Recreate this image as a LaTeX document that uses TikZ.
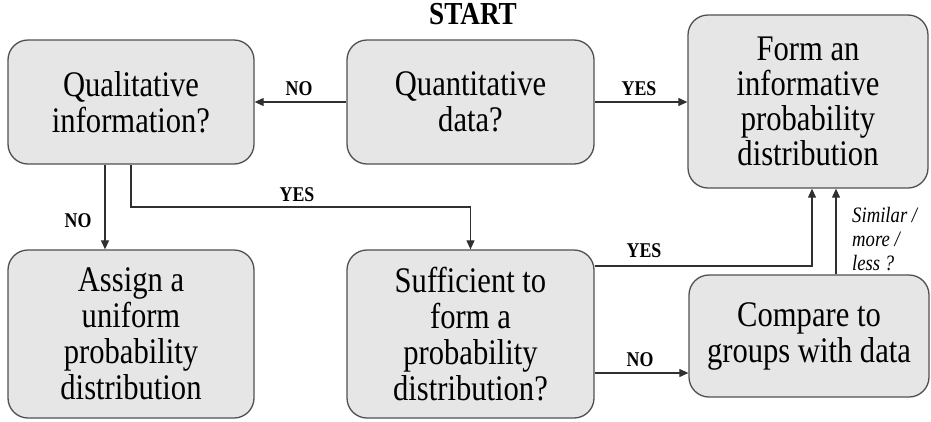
\documentclass[tikz,border=0pt]{standalone}
\usepackage{fontspec}
\setmainfont{Liberation Serif}[FakeStretch=0.85]
\usetikzlibrary{arrows.meta}
\definecolor{boxfill}{HTML}{E6E6E6}
\definecolor{boxline}{HTML}{505050}
\definecolor{conline}{HTML}{303030}
\tikzset{
  box/.style={draw=boxline, line width=1.3pt, fill=boxfill, rounded corners=20pt,
    align=center, inner sep=0pt, font=\fontsize{36}{36}\selectfont},
  con/.style={draw=conline, line width=1.1pt},
  arr/.style={con, -{Triangle[length=9pt,width=8pt]}},
  lab/.style={font=\fontsize{21}{23}\selectfont\bfseries, inner sep=0pt},
  ital/.style={font=\fontsize{22}{24}\selectfont\itshape, align=left, inner sep=0pt},
}
\begin{document}
\begin{tikzpicture}[x=1pt,y=-1pt]
\useasboundingbox (0,0) rectangle (931,421);
% boxes
\node[box, minimum width=246pt, minimum height=124pt] (qual) at (131,102) {Qualitative\\information?};
\node[box, minimum width=247pt, minimum height=124pt] (quant) at (470.5,102) {Quantitative\\data?};
\node[box, minimum width=240pt, minimum height=173pt, font=\fontsize{36}{35}\selectfont] (form) at (808,101.5) {Form an\\informative\\probability\\distribution};
\node[box, minimum width=246pt, minimum height=168pt] (assign) at (131,334) {Assign a\\uniform\\probability\\distribution};
\node[box, minimum width=247pt, minimum height=168pt] (suff) at (470.5,334) {Sufficient to\\form a\\probability\\distribution?};
\node[box, minimum width=240pt, minimum height=122pt] (comp) at (809,336) {Compare to\\groups with data};
% start
\node[font=\fontsize{32}{34}\selectfont\bfseries, inner sep=0pt] (start) at (473,14) {START};
% connectors
\draw[arr] (quant.west) -- (qual.east);
\node[lab] (lno1) at (299,89) {NO};
\draw[arr] (quant.east) -- (form.west |- quant.east);
\node[lab] (lyes1) at (639,89) {YES};
\coordinate (qa) at ([xshift=-26pt]qual.south);
\draw[arr] (qa) -- (qa |- assign.north);
\node[lab] (lno2) at (78,221) {NO};
\coordinate (qb1) at (qual.south |- 0,207);
\coordinate (qb2) at (suff.north |- 0,207);
\draw[arr] (qual.south) -- (qb1) -- (qb2) -- (suff.north);
\node[lab] (lyes2) at (297,195) {YES};
\coordinate (sy1) at (suff.east |- 0,266);
\coordinate (sy2) at (812,266);
\draw[arr] (sy1) -- (sy2) -- (sy2 |- form.south);
\node[lab] (lyes3) at (644,251) {YES};
\coordinate (sn1) at (suff.east |- 0,373);
\draw[arr] (sn1) -- (sn1 -| comp.west);
\node[lab] (lno3) at (640,360) {NO};
\coordinate (cf) at (836,0);
\draw[arr] (cf |- comp.north) -- (cf |- form.south);
\node[ital, anchor=north west] (sim) at (852,207) {Similar /\\more /\\less ?};
\end{tikzpicture}
\end{document}
